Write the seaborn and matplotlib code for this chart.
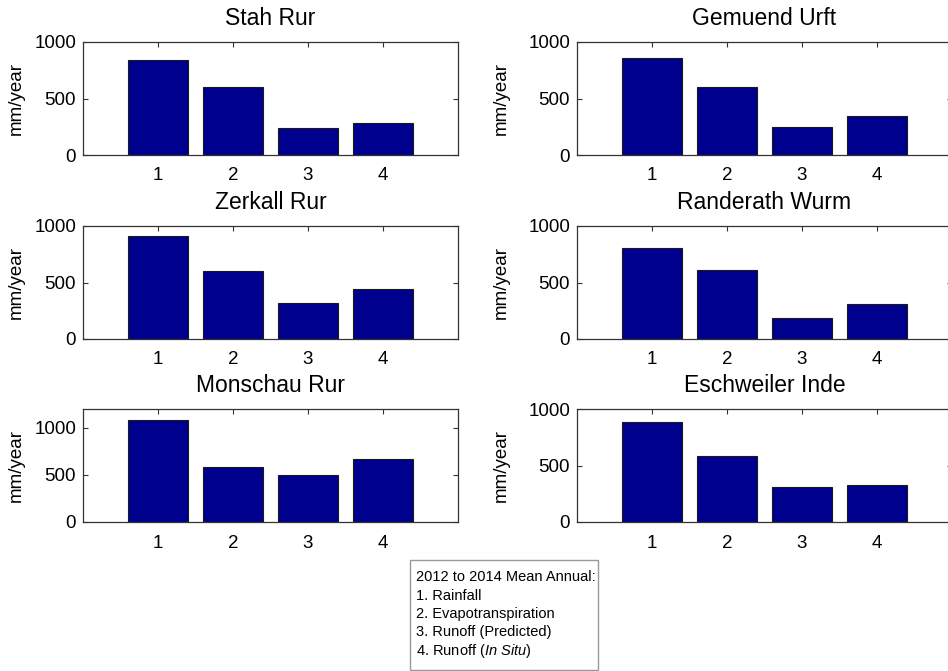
import matplotlib
matplotlib.use("Agg")
import matplotlib.pyplot as plt
import seaborn as sns
import pandas as pd
from matplotlib.patches import Rectangle

sns.set_theme(style="white")
plt.rcParams["font.family"] = ["Liberation Sans", "DejaVu Sans"]
plt.rcParams["mathtext.fontset"] = "custom"
plt.rcParams["mathtext.rm"] = "Liberation Sans"
plt.rcParams["mathtext.it"] = "Liberation Sans:italic"
plt.rcParams["text.color"] = "black"
plt.rcParams["axes.labelcolor"] = "black"
plt.rcParams["axes.titlecolor"] = "black"
plt.rcParams["xtick.labelcolor"] = "black"
plt.rcParams["ytick.labelcolor"] = "black"

# Water-balance components (1..4) for each catchment, mm/year
components = [1, 2, 3, 4]
stah_rur = [843, 606, 237, 284]
gemuend_urft = [855, 604, 251, 343]
zerkall_rur = [912, 599, 316, 442]
randerath_wurm = [801, 611, 190, 309]
monschau_rur = [1088, 586, 498, 670]
eschweiler_inde = [886, 588, 307, 325]

site_names = ["Stah Rur", "Gemuend Urft", "Zerkall Rur",
              "Randerath Wurm", "Monschau Rur", "Eschweiler Inde"]
site_values = [stah_rur, gemuend_urft, zerkall_rur,
               randerath_wurm, monschau_rur, eschweiler_inde]
site_ymax = [1000, 1000, 1000, 1000, 1200, 1000]

legend_lines = [
    "2012 to 2014 Mean Annual:",
    "1. Rainfall",
    "2. Evapotranspiration",
    "3. Runoff (Predicted)",
    r"4. Runoff ($\mathit{In\ Situ}$)",
]

W, H = 948, 671
fig = plt.figure(figsize=(W / 100, H / 100), dpi=100)

# panel boxes in pixels: (left, top, width, height)
col_left = [83, 577]
row_top = [42, 226, 409]
ax_w, ax_h = 375, 113
ylabel_x = [-0.155, -0.179]

bar_color = "#00008F"
spine_color = "#333333"

for i, (name, vals, ymax) in enumerate(zip(site_names, site_values, site_ymax)):
    r, c = divmod(i, 2)
    left = col_left[c] / W
    bottom = 1 - (row_top[r] + ax_h) / H
    ax = fig.add_axes([left, bottom, ax_w / W, ax_h / H])
    df = pd.DataFrame({"component": components, "value": vals})
    sns.barplot(data=df, x="component", y="value", native_scale=True,
                width=0.8, color=bar_color, saturation=1,
                edgecolor="#1a1a1a", linewidth=0.8, ax=ax)
    ax.set_xlim(0, 5)
    ax.set_ylim(0, ymax)
    ax.set_xticks(components)
    ax.set_xticklabels([str(v) for v in components])
    ax.set_yticks([0, 500, 1000])
    ax.set_yticklabels(["0", "500", "1000"])
    ax.set_xlabel("")
    ax.set_ylabel("mm/year", fontsize=13.5)
    ax.yaxis.set_label_coords(ylabel_x[c], 0.5)
    ax.set_title(name, fontsize=16.5, pad=12.5)
    for sp in ax.spines.values():
        sp.set_visible(True)
        sp.set_color(spine_color)
        sp.set_linewidth(0.9)
    ax.tick_params(axis="both", direction="in", length=3.5, width=0.8,
                   color=spine_color, labelsize=13.5, labelcolor="black",
                   top=True, right=True, bottom=True, left=True)
    ax.tick_params(axis="x", pad=9)
    ax.tick_params(axis="y", pad=5)

# text box describing the components
bx0, by0, bx1, by1 = 410, 560, 598, 670
fig.patches.append(Rectangle((bx0 / W, 1 - by1 / H), (bx1 - bx0) / W,
                             (by1 - by0) / H, transform=fig.transFigure,
                             facecolor="white", edgecolor="#999999",
                             linewidth=1.0, zorder=0))
line_y = [577, 596, 614, 632, 651]
for txt, y in zip(legend_lines, line_y):
    fig.text(416 / W, 1 - y / H, txt, fontsize=10.5, va="center",
             ha="left", color="black")

fig.savefig("out.png", dpi=100, facecolor="white")
